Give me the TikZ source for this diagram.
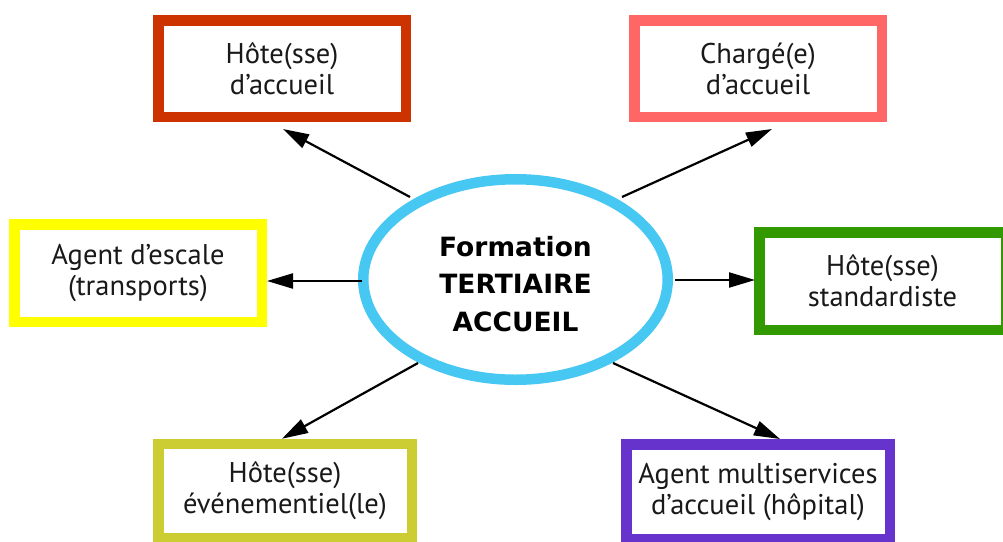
\documentclass[tikz,border=0pt]{standalone}
\usepackage{fontspec}
\setmainfont{PT Sans}
\newfontfamily\hubfont{DejaVu Sans}
\usetikzlibrary{shapes.geometric,arrows.meta,calc}
\definecolor{cRed}{HTML}{CC3300}
\definecolor{cSalmon}{HTML}{FF6666}
\definecolor{cYellow}{HTML}{FFFF00}
\definecolor{cGreen}{HTML}{339900}
\definecolor{cOlive}{HTML}{CCCC33}
\definecolor{cPurple}{HTML}{6633CC}
\definecolor{cCyan}{HTML}{47C8F3}
\tikzset{
  jobbox/.style={draw=#1, line width=10.5pt, fill=white, rectangle, inner sep=0pt,
    align=center, font=\fontsize{28.5}{31}\selectfont, text=black!90},
  hub/.style={draw=cCyan, line width=10.5pt, fill=white, ellipse, inner sep=0pt,
    minimum width=304.5pt, minimum height=200.5pt, align=center,
    font=\hubfont\bfseries\fontsize{26.5}{37.5}\selectfont},
  link/.style={line width=2.2pt, -{Triangle[length=26pt,width=15pt]}}
}
\begin{document}
\begin{tikzpicture}[x=1pt,y=-1pt]
\useasboundingbox (0,0) rectangle (1003,541);
\node[hub] (ell) at (515.5,279.5) {\rule{0pt}{29pt}Formation\\TERTIAIRE\\ACCUEIL};
\node[jobbox=cRed, minimum width=247.5pt, minimum height=96.5pt] (red) at (282,68.5) {Hôte(sse)\\d’accueil};
\node[jobbox=cSalmon, minimum width=247.5pt, minimum height=96.5pt] (sal) at (758,68.5) {Chargé(e)\\d’accueil};
\node[jobbox=cYellow, minimum width=247.5pt, minimum height=97.5pt] (yel) at (138,273) {Agent d’escale\\(transports)};
\node[jobbox=cGreen, minimum width=246.5pt, minimum height=97.5pt] (grn) at (882.5,281) {Hôte(sse)\\standardiste};
\node[jobbox=cOlive, minimum width=253.5pt, minimum height=94pt] (oli) at (285,491) {Hôte(sse)\\événementiel(le)};
\node[jobbox=cPurple, minimum width=263.5pt, minimum height=94.5pt] (pur) at (758,491.5) {Agent multiservices\\d’accueil (hôpital)};
\draw[link] ($(ell.center)+(-105.5,-82.5)$) -- ($(red.south)+(1,7)$);
\draw[link] ($(ell.center)+(106.5,-82.5)$) -- ($(sal.south)+(14,7)$);
\draw[link] ($(ell.center)+(-153.5,1.5)$) -- ($(yel.east)+(0,8)$);
\draw[link] ($(ell.center)+(159.5,0.5)$) -- ($(grn.west)+(1,-1)$);
\draw[link] ($(ell.center)+(-97.5,83.5)$) -- ($(oli.north)+(-3,0)$);
\draw[link] ($(ell.center)+(97.5,83.5)$) -- ($(pur.north)+(22,0)$);
\end{tikzpicture}
\end{document}
